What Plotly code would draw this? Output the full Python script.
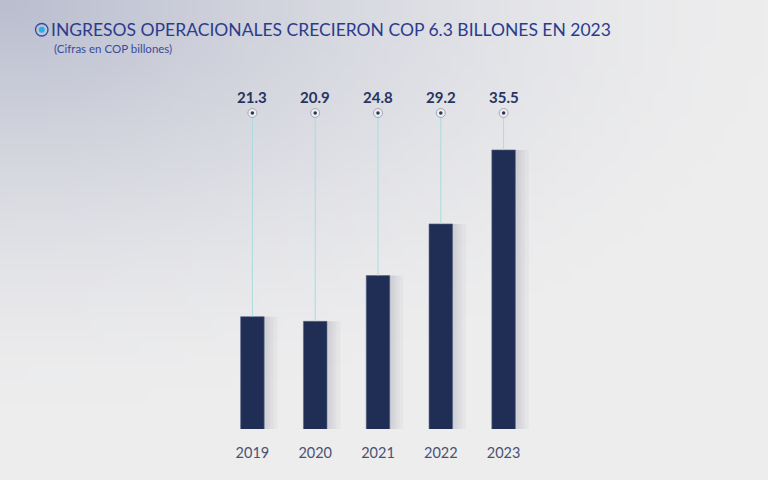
import base64, math, struct, zlib
import plotly.graph_objects as go

# ---- data ----
years = ["2019", "2020", "2021", "2022", "2023"]
revenue = [21.3, 20.9, 24.8, 29.2, 35.5]
value_labels = ["21.3", "20.9", "24.8", "29.2", "35.5"]
title_text = "INGRESOS OPERACIONALES CRECIERON COP 6.3 BILLONES EN 2023"
subtitle_text = "(Cifras en COP billones)"

# ---- layout geometry ----
W, H = 768, 480
ML, MR, MT, MB = 221, 233, 80, 51
PW, PH = W - ML - MR, H - MT - MB
Y0 = 11.73
PX_PER_UNIT = 11.74
Y1 = Y0 + PH / PX_PER_UNIT
DOT_Y = Y0 + (H - MB - 113) / PX_PER_UNIT
LABEL_Y = Y0 + (H - MB - 97) / PX_PER_UNIT


def px(x):
    return (x - ML) / PW


def py(y):
    return (H - MB - y) / PH


# ---- background gradient image (generated PNG) ----
def make_bg(w=64, h=40):
    dark = (186, 190, 207)
    light = (237, 237, 238)
    rows = b""
    for j in range(h):
        row = b"\x00"
        for i in range(w):
            dx = i / (w - 1)
            dy = j / (h - 1) * 1.2
            d = math.sqrt(dx * dx + dy * dy)
            t = max(0.0, 1.0 - d / 1.0)
            t = t ** 1.5
            c = [int(light[k] + (dark[k] - light[k]) * t) for k in range(3)]
            row += bytes(c)
        rows += row

    def chunk(tag, data):
        c = struct.pack(">I", len(data)) + tag + data
        return c + struct.pack(">I", zlib.crc32(tag + data) & 0xFFFFFFFF)

    png = b"\x89PNG\r\n\x1a\n"
    png += chunk(b"IHDR", struct.pack(">IIBBBBB", w, h, 8, 2, 0, 0, 0))
    png += chunk(b"IDAT", zlib.compress(rows, 9))
    png += chunk(b"IEND", b"")
    return "data:image/png;base64," + base64.b64encode(png).decode()


fig = go.Figure()

# soft shadows
for wd in [0.56, 0.50, 0.45, 0.41]:
    fig.add_trace(go.Bar(x=years, y=revenue, width=wd, offset=-0.16,
                         marker=dict(color="rgba(60,60,75,0.035)", line=dict(width=0)),
                         hoverinfo="skip", showlegend=False))
# main bars
fig.add_trace(go.Bar(x=years, y=revenue, width=0.375,
                     marker=dict(color="#202e55", line=dict(color="#5a6688", width=0.6)),
                     showlegend=False))

# connector lines from dot to bar top
lx, ly = [], []
for yr, v in zip(years, revenue):
    lx += [yr, yr, None]
    ly += [DOT_Y, v, None]
fig.add_trace(go.Scatter(x=lx, y=ly, mode="lines",
                         line=dict(color="#a9dbe0", width=1),
                         hoverinfo="skip", showlegend=False, cliponaxis=False))
# dots
fig.add_trace(go.Scatter(x=years, y=[DOT_Y] * len(years), mode="markers",
                         marker=dict(symbol="circle", size=9, color="#ededf0",
                                     line=dict(color="#a4a8b8", width=1)),
                         hoverinfo="skip", showlegend=False, cliponaxis=False))
fig.add_trace(go.Scatter(x=years, y=[DOT_Y] * len(years), mode="markers",
                         marker=dict(symbol="circle", size=3.5, color="#2a3558"),
                         hoverinfo="skip", showlegend=False, cliponaxis=False))

annotations = []
for i, lab in enumerate(value_labels):
    annotations.append(dict(x=i, y=LABEL_Y, xref="x", yref="y", text="<b>%s</b>" % lab,
                            showarrow=False, xanchor="center", yanchor="middle",
                            font=dict(family="Lato", size=15, color="#27345f")))
annotations.append(dict(x=px(49), y=py(29.5), xref="paper", yref="paper", text=title_text,
                        showarrow=False, xanchor="left", yanchor="middle",
                        font=dict(family="Lato", size=17.5, color="#2b3c8e")))
annotations.append(dict(x=px(52), y=py(48.5), xref="paper", yref="paper", text=subtitle_text,
                        showarrow=False, xanchor="left", yanchor="middle",
                        font=dict(family="Lato", size=11.5, color="#3a4b9c")))

shapes = [
    dict(type="circle", xref="paper", yref="paper",
         x0=px(35.5), x1=px(48), y0=py(23.5), y1=py(36),
         line=dict(color="#2f4ca6", width=1.3), fillcolor="rgba(0,0,0,0)"),
    dict(type="circle", xref="paper", yref="paper",
         x0=px(38.8), x1=px(44.8), y0=py(26.8), y1=py(32.8),
         line=dict(width=0), fillcolor="#1fb3ea"),
]

fig.update_layout(
    width=W, height=H,
    margin=dict(l=ML, r=MR, t=MT, b=MB, pad=0),
    paper_bgcolor="#ececed", plot_bgcolor="rgba(0,0,0,0)",
    barmode="overlay",
    images=[dict(source=make_bg(), xref="paper", yref="paper",
                 x=px(0), y=py(0), sizex=W / PW, sizey=H / PH,
                 xanchor="left", yanchor="top", sizing="stretch", layer="below")],
    annotations=annotations,
    shapes=shapes,
    xaxis=dict(type="category", range=[-0.5, 4.5], showgrid=False, zeroline=False,
               showline=False, ticks="outside", ticklen=11, tickcolor="rgba(0,0,0,0)",
               tickfont=dict(family="Lato", size=14.5, color="#4a5172"), fixedrange=True),
    yaxis=dict(range=[Y0, Y1], visible=False, fixedrange=True),
    font=dict(family="Lato"),
)

fig.write_html("out.html", config={"displayModeBar": False},
               post_script="document.body.style.margin='0';document.body.style.overflow='hidden';")
